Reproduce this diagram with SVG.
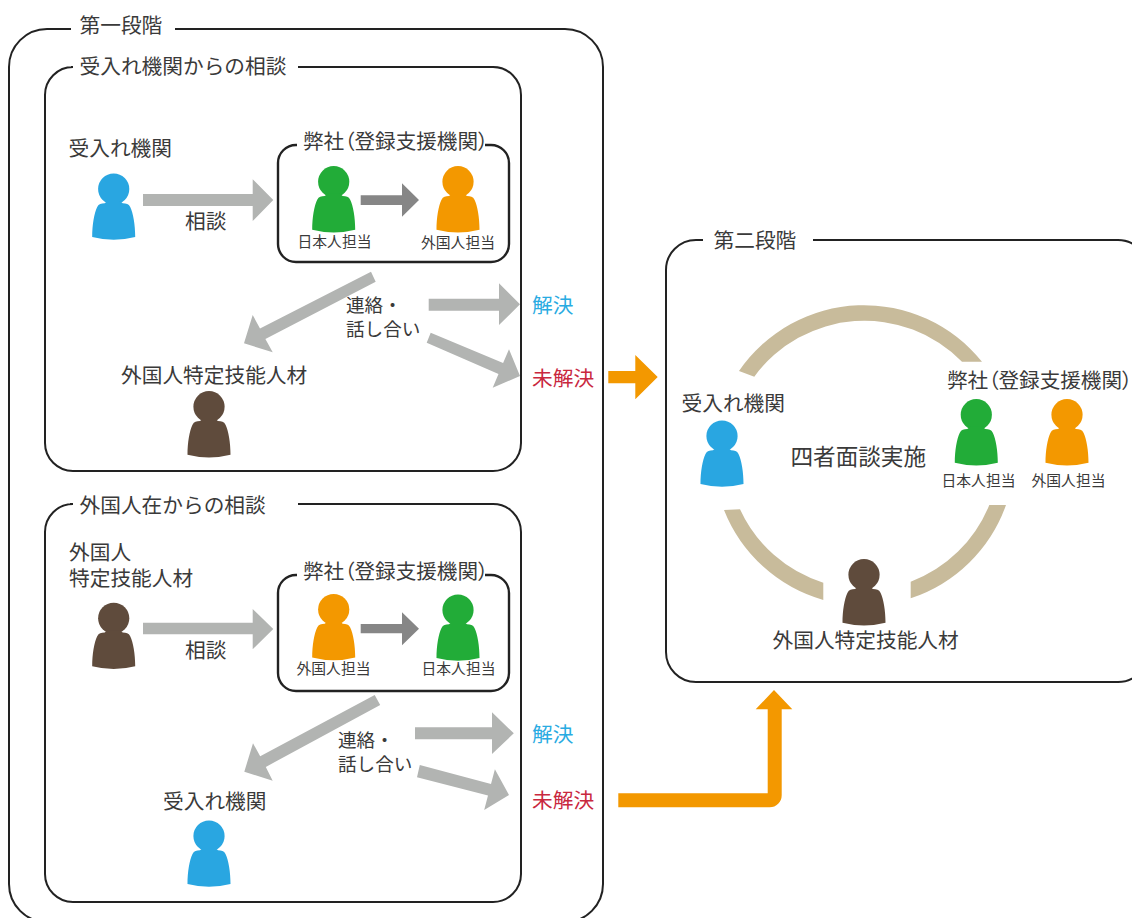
<svg xmlns="http://www.w3.org/2000/svg" width="1132" height="918" viewBox="0 0 1132 918">
<style>
text{font-family:"Noto Sans CJK JP","Noto Sans",sans-serif;fill:#3a3a3a;font-size:20.7px;}
.p{font-feature-settings:"palt";font-size:20.6px}
.s{font-size:14.8px}
.m{font-size:18.6px}
.l{font-size:22.6px}
.blue{fill:#29abe2}
.red{fill:#c9283e}
.frame{fill:none;stroke:#222;stroke-width:2}
.frame2{fill:none;stroke:#222;stroke-width:2.4}
.g1{fill:#b2b4b2}
.g2{fill:#868686}
.o{fill:#f39800}
.ring{fill:#c8bb9b}
</style>
<defs>
<g id="person">
<circle cx="0" cy="0" r="15.6"/>
<path d="M-21.5 48C-21.5 36-19.5 24-16.5 18C-15 15-12.5 14.3-9 14.3L-6 12H6L9 14.3C12.5 14.3 15 15 16.5 18C19.5 24 21.5 36 21.5 48Q0 53.5-21.5 48Z"/>
</g>
</defs>
<rect width="1132" height="918" fill="#fff"/>
<g id="frames">
<path class="frame" d="M71 29H47A38 38 0 0 0 9 67V884A38 38 0 0 0 47 922H565A38 38 0 0 0 603 884V67A38 38 0 0 0 565 29H175"/>
<path class="frame" d="M71 67H73A28 28 0 0 0 45 95V443A28 28 0 0 0 73 471H493A28 28 0 0 0 521 443V95A28 28 0 0 0 493 67H298"/>
<path class="frame" d="M70 504H73A28 28 0 0 0 45 532V874A28 28 0 0 0 73 902H493A28 28 0 0 0 521 874V532A28 28 0 0 0 493 504H298"/>
<path class="frame2" d="M297 145H296A18 18 0 0 0 278 163V244A18 18 0 0 0 296 262H491A18 18 0 0 0 509 244V163A18 18 0 0 0 491 145H485"/>
<path class="frame2" d="M297 575H296A18 18 0 0 0 278 593V673A18 18 0 0 0 296 691H491A18 18 0 0 0 509 673V593A18 18 0 0 0 491 575H485"/>
<path class="frame" d="M703 240H696A30 30 0 0 0 666 270V652A30 30 0 0 0 696 682H1118A30 30 0 0 0 1148 652V270A30 30 0 0 0 1118 240H813"/>
</g>
<g id="frame-labels">
<text x="79.5" y="33">第一段階</text>
<text x="79.5" y="73.5">受入れ機関からの相談</text>
<text x="79.5" y="512.5">外国人在からの相談</text>
<text x="713.5" y="247.5">第二段階</text>
</g>
<g id="connectors">
<polygon class="g1" points="143,194 252.7,194 252.7,179.3 273.3,200 252.7,221 252.7,206 143,206"/>
<polygon class="g2" points="360.7,195.3 402,195.3 402,183.3 419,200 402,216.7 402,205 360.7,205"/>
<polygon class="g1" points="371,271.7 375.7,281.7 265.4,339 272.7,352.3 244,343.3 252.7,315 260,328.4"/>
<polygon class="g1" points="428.7,298.7 499,298.7 499,283.3 520,304.3 499,325 499,310.7 428.7,310.7"/>
<polygon class="g1" points="430.7,332.7 426.7,342.7 498.5,374 492.7,387.7 520,376 509,349.3 503.1,363"/>
<polygon class="o" points="608.3,371 635.3,371 635.3,355 657.7,377 635.3,399.3 635.3,383.3 608.3,383.3"/>
<polygon class="g1" points="143,622.7 252.7,622.7 252.7,609 273.3,629 252.7,649.3 252.7,634.3 143,634.3"/>
<polygon class="g2" points="360.7,624 402,624 402,612.3 419,628.7 402,645.3 402,633.3 360.7,633.3"/>
<polygon class="g1" points="374.7,695 380.2,705 265.8,766.9 272.7,780.7 244.3,771.7 253,743.3 260.2,756.3"/>
<polygon class="g1" points="415,727.3 492,727.3 492,712.3 513.8,733.3 492,754 492,739.3 415,739.3"/>
<polygon class="g1" points="419.8,765 417,777.3 488,795.5 484.2,810 509,795 494.9,769.3 491,783.9"/>
<path class="o" d="M618.3 793.3H767.7V709.3H755.7L774 690L792.3 709.3H781.7V795.3A12 12 0 0 1 769.7 807.3H618.3Z"/>
</g>
<g id="ring">
<path class="ring" d="M739 371A151.5 151.5 0 0 1 982 361.7H962A136.5 136.5 0 0 0 754.3 376.7Z"/>
<path class="ring" d="M724 510A151.5 151.5 0 0 0 823.3 600V582.7A136.5 136.5 0 0 1 740 509.3Z"/>
<path class="ring" d="M1006 505A151.5 151.5 0 0 1 910.7 598.3V581.7A136.5 136.5 0 0 0 989.3 505Z"/>
</g>
<g id="node-ukeire-1"><use href="#person" x="113.7" y="189" fill="#29a6e1"/><text x="68.5" y="156">受入れ機関</text></g>
<g id="node-heisha-1"><text class="p" x="303" y="149">弊社（登録支援機関）</text></g>
<g id="node-jp-1"><use href="#person" x="333.7" y="181.7" fill="#22ac38"/><text class="s" x="297.5" y="247">日本人担当</text></g>
<g id="node-fr-1"><use href="#person" x="458" y="181.7" fill="#f39800"/><text class="s" x="421" y="248">外国人担当</text></g>
<g id="node-worker-1"><use href="#person" x="209" y="406.7" fill="#5f4b3c"/><text x="121" y="382.5">外国人特定技能人材</text></g>
<g id="label-soudan-1"><text x="185" y="229">相談</text></g>
<g id="label-renraku-1"><text class="m" x="346" y="311.5">連絡・<tspan x="346" y="336">話し合い</tspan></text></g>
<g id="node-kaiketsu-1"><text class="blue" x="532" y="313">解決</text></g>
<g id="node-mikaiketsu-1"><text class="red" x="532" y="386">未解決</text></g>
<g id="node-worker-2"><use href="#person" x="113.7" y="618.3" fill="#5f4b3c"/><text x="69" y="560">外国人<tspan x="69" y="585.5">特定技能人材</tspan></text></g>
<g id="node-heisha-2"><text class="p" x="303" y="579">弊社（登録支援機関）</text></g>
<g id="node-fr-2"><use href="#person" x="333.7" y="609.5" fill="#f39800"/><text class="s" x="296.5" y="674">外国人担当</text></g>
<g id="node-jp-2"><use href="#person" x="458" y="610" fill="#22ac38"/><text class="s" x="421.5" y="674">日本人担当</text></g>
<g id="node-ukeire-2"><use href="#person" x="209" y="836" fill="#29a6e1"/><text x="163" y="808.5">受入れ機関</text></g>
<g id="label-soudan-2"><text x="185" y="658">相談</text></g>
<g id="label-renraku-2"><text class="m" x="338" y="747">連絡・<tspan x="338" y="771">話し合い</tspan></text></g>
<g id="node-kaiketsu-2"><text class="blue" x="532" y="741.5">解決</text></g>
<g id="node-mikaiketsu-2"><text class="red" x="532" y="808">未解決</text></g>
<g id="node-ukeire-3"><use href="#person" x="722" y="436" fill="#29a6e1"/><text x="681.5" y="411">受入れ機関</text></g>
<g id="node-heisha-3"><text class="p" x="947" y="388">弊社（登録支援機関）</text></g>
<g id="node-jp-3"><use href="#person" x="976.3" y="414.7" fill="#22ac38"/><text class="s" x="941.5" y="486">日本人担当</text></g>
<g id="node-fr-3"><use href="#person" x="1067" y="414.7" fill="#f39800"/><text class="s" x="1031.5" y="486">外国人担当</text></g>
<g id="node-worker-3"><use href="#person" x="864" y="574.7" fill="#5f4b3c"/><text x="772.5" y="647.5">外国人特定技能人材</text></g>
<g id="label-mensetsu"><text class="l" x="790.5" y="464.5">四者面談実施</text></g>
</svg>
